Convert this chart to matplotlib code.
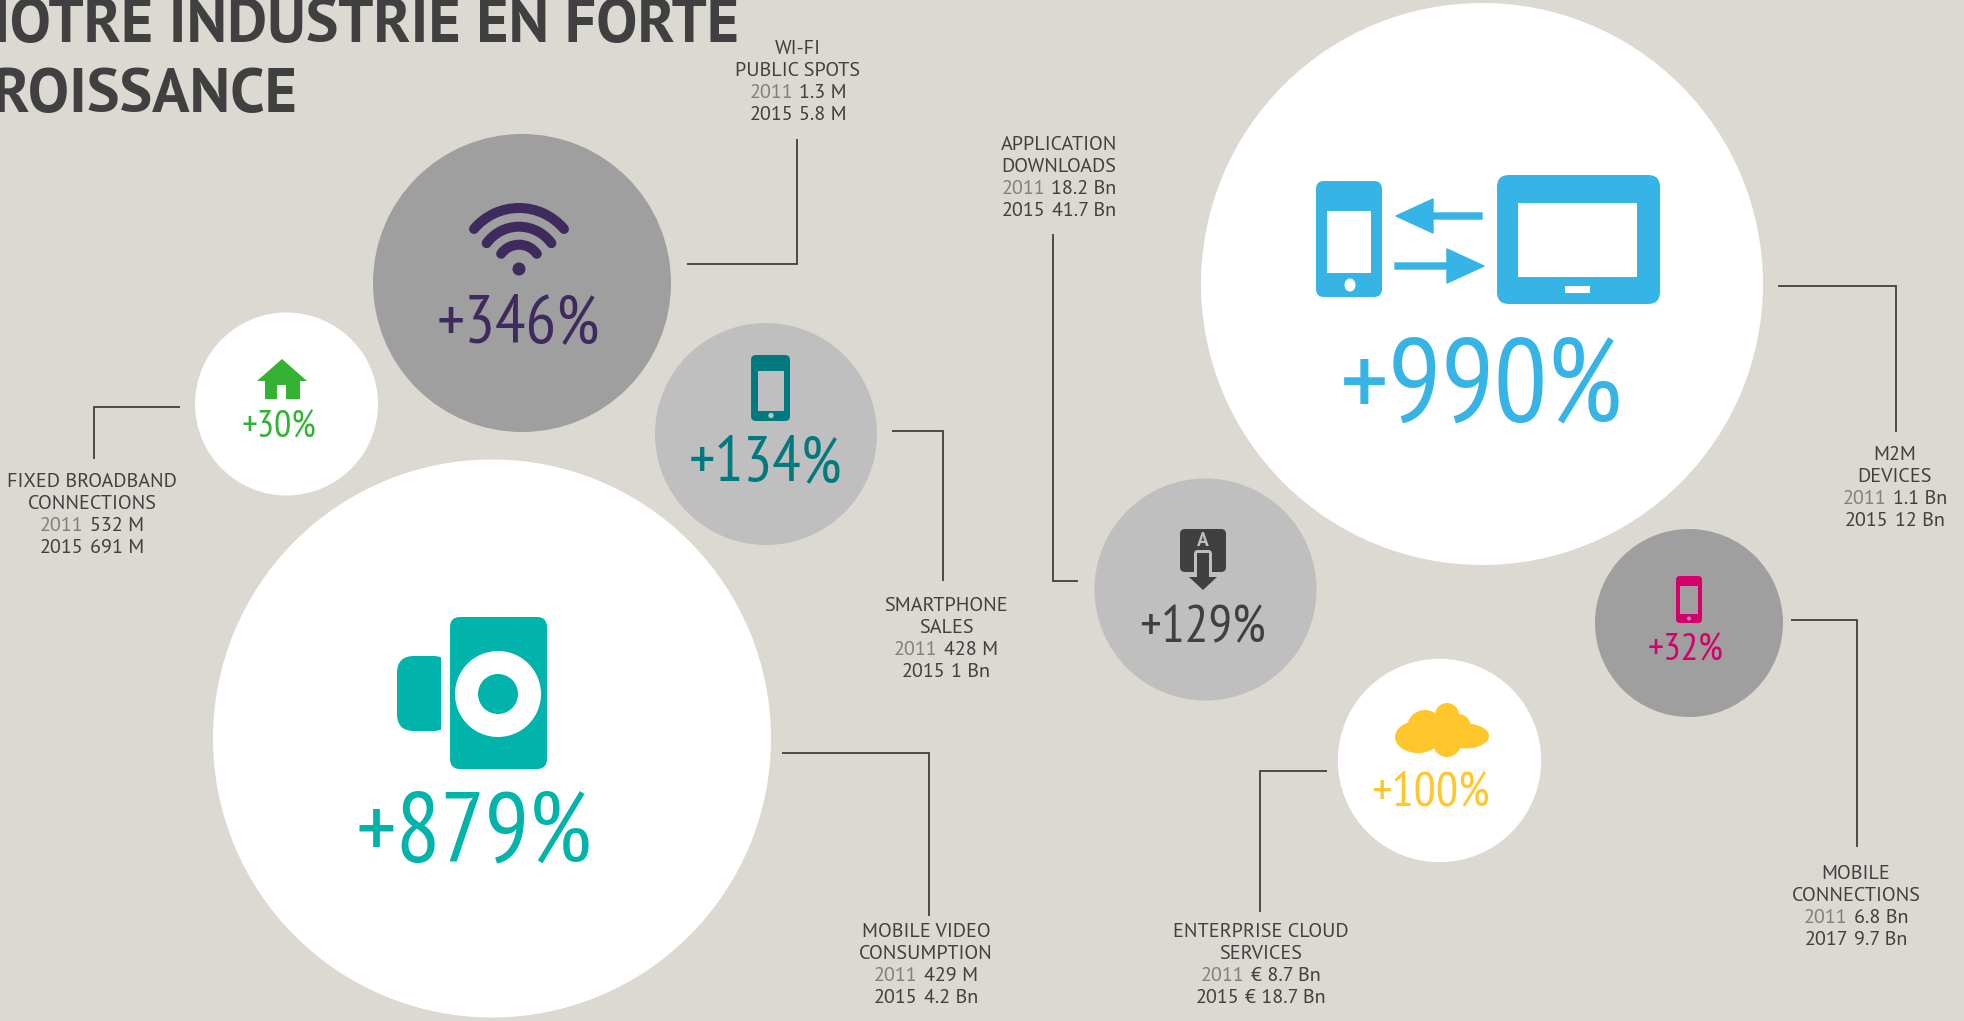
import matplotlib
matplotlib.use('Agg')
import matplotlib.pyplot as plt
from matplotlib.patches import Circle, Ellipse, FancyBboxPatch, Polygon, Rectangle, Arc

# data
names = [['WI-FI', 'PUBLIC SPOTS'], ['FIXED BROADBAND', 'CONNECTIONS'], ['SMARTPHONE', 'SALES'],
         ['MOBILE VIDEO', 'CONSUMPTION'], ['APPLICATION', 'DOWNLOADS'], ['M2M', 'DEVICES'],
         ['ENTERPRISE CLOUD', 'SERVICES'], ['MOBILE', 'CONNECTIONS']]
growth = ['+346%', '+30%', '+134%', '+879%', '+129%', '+990%', '+100%', '+32%']
year_old = ['2011'] * 8
year_new = ['2015', '2015', '2015', '2015', '2015', '2015', '2015', '2017']
value_old = ['1.3 M', '532 M', '428 M', '429 M', '18.2 Bn', '1.1 Bn', '€ 8.7 Bn', '6.8 Bn']
value_new = ['5.8 M', '691 M', '1 Bn', '4.2 Bn', '41.7 Bn', '12 Bn', '€ 18.7 Bn', '9.7 Bn']
title_lines = ['NOTRE INDUSTRIE EN FORTE', 'CROISSANCE']

# layout, in pixels of the picture
centers = [(522, 283), (286.5, 404), (766, 434), (492, 738.5), (1205.5, 589.5), (1482, 284), (1439.5, 760.5), (1689, 623)]
radii = [149, 91.5, 111, 279, 111, 281, 101.7, 94]
circle_colors = ['#9f9f9f', 'white', '#bfbfbf', 'white', '#bfbfbf', 'white', 'white', '#9f9f9f']
text_colors = ['#3f2a5e', '#34b233', '#007a7e', '#00b3ab', '#404040', '#36b4e6', '#ffc72c', '#d6006d']
pct_pos = [(518, 342), (279, 437), (766, 480), (474, 861), (1203, 642), (1482, 421), (1431, 805), (1686, 660)]
pct_size = [49, 27.5, 46, 71, 38, 85, 35.5, 28]
label_pos = [(798, 49), (92, 482), (946, 606), (926, 932), (1059, 145), (1895, 455), (1261, 932), (1856, 874)]
leaders = [[(687, 264), (797, 264), (797, 139)],
           [(180, 407), (94, 407), (94, 459)],
           [(892, 431), (943, 431), (943, 581)],
           [(782, 753), (929, 753), (929, 916)],
           [(1053, 234), (1053, 581), (1078, 581)],
           [(1778, 286), (1896, 286), (1896, 432)],
           [(1327, 771), (1260, 771), (1260, 912)],
           [(1791, 620), (1857, 620), (1857, 847)]]

bg = '#dcd8d2'
dark = '#404040'
grey = '#808080'
label_size = 14.5
plt.rcParams['font.family'] = ['PT Sans Narrow', 'Lato', 'DejaVu Sans']
wide_font = ['PT Sans', 'Lato', 'DejaVu Sans']

fig = plt.figure(figsize=(19.65, 10.21), dpi=100, facecolor=bg)
ax = fig.add_axes([0, 0, 1, 1])
ax.set_xlim(0, 1965)
ax.set_ylim(1021, 0)
ax.axis('off')
renderer = fig.canvas.get_renderer()


def rbox(x0, y0, x1, y1, r, color, z=3):
    ax.add_patch(FancyBboxPatch((x0 + r, y0 + r), x1 - x0 - 2 * r, y1 - y0 - 2 * r,
                                boxstyle='round,pad=%g,rounding_size=%g' % (r, r),
                                fc=color, ec='none', zorder=z))


def rect(x0, y0, x1, y1, color, z=4):
    ax.add_patch(Rectangle((x0, y0), x1 - x0, y1 - y0, fc=color, ec='none', zorder=z))


def disc(x, y, r, color, z=4):
    ax.add_patch(Circle((x, y), r, fc=color, ec='none', zorder=z))


def two_tone(cx, y, year, value, year_color):
    # year and value have different colours, so the pair is centred by hand
    a = ax.text(0, y, year, fontsize=label_size, family=wide_font, color=year_color, va='center', ha='left')
    b = ax.text(0, y, value, fontsize=label_size, family=wide_font, color=dark, va='center', ha='left')
    wa = a.get_window_extent(renderer).width
    wb = b.get_window_extent(renderer).width
    left = cx - (wa + 6 + wb) / 2
    a.set_x(left)
    b.set_x(left + wa + 6)


# bubbles
for c, r, col in zip(centers, radii, circle_colors):
    ax.add_patch(Circle(c, r, fc=col, ec='none', zorder=1))

# percentages
for g, p, s, col in zip(growth, pct_pos, pct_size, text_colors):
    ax.text(p[0], p[1], g, fontsize=s, color=col, ha='center', va='baseline', zorder=5)

# leader lines
for line in leaders:
    ax.plot([q[0] for q in line], [q[1] for q in line], color=dark, lw=1.3, zorder=2,
            solid_joinstyle='miter', solid_capstyle='butt')

# labels
for i in range(len(names)):
    x, y = label_pos[i]
    ax.text(x, y, names[i][0], fontsize=label_size, family=wide_font, color=dark, ha='center', va='center')
    ax.text(x, y + 22, names[i][1], fontsize=label_size, family=wide_font, color=dark, ha='center', va='center')
    two_tone(x, y + 44, year_old[i], value_old[i], grey)
    two_tone(x, y + 66, year_new[i], value_new[i], dark)

# title runs off the left edge
ax.text(739, 42, title_lines[0], fontsize=44.5, family=wide_font, fontweight='bold', color=dark, ha='right', va='baseline')
ax.text(298, 112, title_lines[1], fontsize=44.5, family=wide_font, fontweight='bold', color=dark, ha='right', va='baseline')

# wifi icon
wifi = text_colors[0]
for r, t in [(58.7, 40), (40, 36), (22, 36)]:
    ax.add_patch(Arc((519, 266.7), 2 * r, 2 * r, theta1=180 + t, theta2=360 - t, color=wifi,
                     lw=7.2, capstyle='round', zorder=4))
ax.add_patch(Ellipse((519, 269), 13, 13, fc=wifi, ec='none', zorder=4))

# house icon
green = text_colors[1]
ax.add_patch(Polygon([(282, 359), (307, 381), (300, 381), (300, 399), (265, 399), (265, 381), (257, 381)],
                     fc=green, ec='none', zorder=4))
rect(277, 385, 286, 399, 'white', 5)

# smartphone icon
teal = text_colors[2]
rbox(751, 355, 790, 421, 5, teal)
rect(758, 371, 784, 411, '#bfbfbf')
disc(771, 415.5, 2.7, '#bfbfbf')

# camera icon
cam = text_colors[3]
rbox(397, 656, 450, 731, 17, cam)
rect(441, 650, 450, 740, 'white')
rbox(450, 617, 547, 769, 10, cam)
disc(498, 694, 43, 'white')
disc(498, 694, 20, cam, 5)

# app download icon
app = text_colors[4]
rbox(1180, 529, 1226, 572, 5, app)
rbox(1194, 550, 1212, 574, 4, '#bfbfbf', 4)
rect(1194, 560, 1212, 577, '#bfbfbf')
rect(1197, 553, 1209, 578, app, 5)
ax.add_patch(Polygon([(1189, 577), (1217, 577), (1203, 590)], fc=app, ec='none', zorder=5))
ax.text(1203, 540.5, 'A', fontsize=14, family=wide_font, fontweight='bold', color='#bfbfbf', ha='center', va='center', zorder=5)

# two devices icon
blue = text_colors[5]
rbox(1316, 181, 1382, 297, 8, blue)
rect(1327, 211, 1371, 273, 'white')
ax.add_patch(Ellipse((1350, 285), 11, 13, fc='white', ec='none', zorder=4))
rbox(1497, 175, 1660, 304, 12, blue)
rect(1518, 203, 1637, 277, 'white')
rect(1565, 286, 1590, 293, 'white')
ax.add_patch(Polygon([(1396, 216), (1433, 199), (1433, 213), (1482, 213), (1482, 219), (1433, 219), (1433, 233)],
                     fc=blue, ec=blue, lw=1, joinstyle='round', zorder=4))
ax.add_patch(Polygon([(1484, 266), (1447, 249), (1447, 263), (1395, 263), (1395, 269), (1447, 269), (1447, 283)],
                     fc=blue, ec=blue, lw=1, joinstyle='round', zorder=4))

# cloud icon
yellow = text_colors[6]
for x, y, w, h in [(1418, 737, 46, 32), (1465, 736, 48, 25), (1425, 728, 36, 36), (1447, 715, 24, 24),
                   (1447, 743, 28, 28), (1458, 727, 26, 26), (1440, 733, 50, 26)]:
    ax.add_patch(Ellipse((x, y), w, h, fc=yellow, ec='none', zorder=4))

# small mobile icon
pink = text_colors[7]
rbox(1676, 576, 1702, 623, 4, pink)
rect(1680, 586, 1698, 614, '#9f9f9f')
disc(1689, 618.5, 2, '#9f9f9f')

fig.savefig('out.png', dpi=100, facecolor=bg)
